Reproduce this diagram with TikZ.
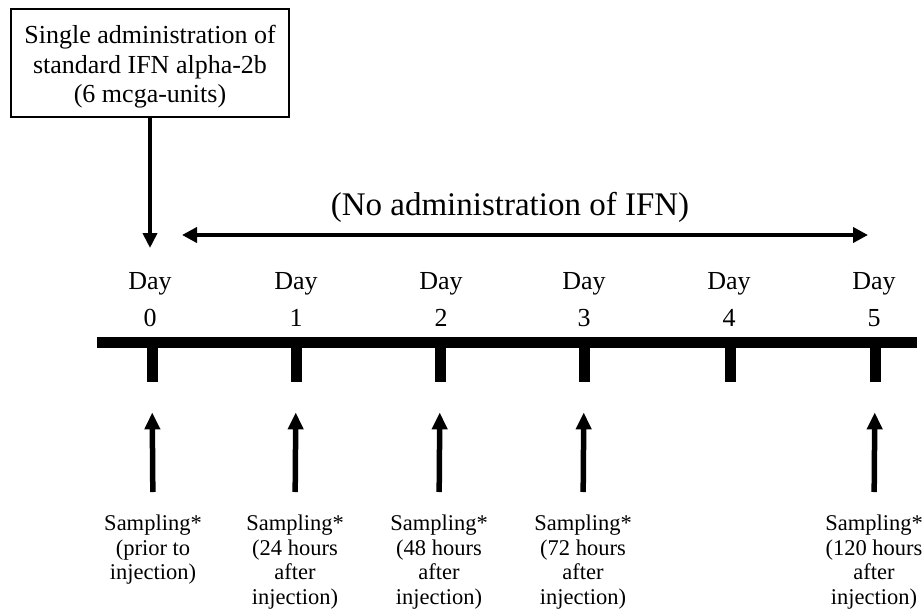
\documentclass[tikz,border=0pt]{standalone}
\usepackage{fontspec}
\setmainfont{Liberation Serif}
\usetikzlibrary{arrows.meta, positioning}

\begin{document}
\begin{tikzpicture}[
    x=1pt, y=-1pt,
    dosebox/.style={rectangle, draw, line width=2.5pt, inner sep=0pt, minimum width=278pt, minimum height=108pt, align=center, font=\fontsize{26}{29.5}\selectfont},
    daylbl/.style={align=center, inner sep=0pt, anchor=north, font=\fontsize{26}{37}\selectfont},
    samplbl/.style={align=center, inner sep=0pt, anchor=north, font=\fontsize{22.5}{24.5}\selectfont},
    daytick/.style={rectangle, fill=black, inner sep=0pt, minimum width=11pt, minimum height=36pt, anchor=north},
    uparrow/.style={-{Triangle[length=17pt, width=15pt]}, line width=5.5pt, shorten <=23pt, shorten >=30pt},
    longarrow/.style={line width=4.5pt}
]
\useasboundingbox (0,0) rectangle (923,615);

% -- DOSE --
\node[dosebox] (dose) at (150,63) {\rule{0pt}{26pt}Single administration of\\standard IFN alpha-2b\\(6 mcga-units)};

% -- NO ADMINISTRATION --
\node[inner sep=0pt, font=\fontsize{33}{36}\selectfont] (noifn) at (510,207) {(No administration of IFN)};
\coordinate (nofrom) at (182,235);
\coordinate (noto) at (868,235);
\draw[longarrow, {Triangle[length=15pt, width=15pt]}-{Triangle[length=15pt, width=15pt]}] (nofrom) -- (noto);

% -- DAYS --
\node[daylbl] (day0) at (150,272) {Day\\0};
\node[daylbl] (day1) at (296,272) {Day\\1};
\node[daylbl] (day2) at (441,272) {Day\\2};
\node[daylbl] (day3) at (584,272) {Day\\3};
\node[daylbl] (day4) at (729,272) {Day\\4};
\node[daylbl] (day5) at (874,272) {Day\\5};

\draw[longarrow, -{Triangle[length=15pt, width=14pt]}, shorten >=24pt] (dose.south) -- (day0.north);

% -- TIME LINE --
\node[rectangle, fill=black, inner sep=0pt, minimum width=820pt, minimum height=11pt] (axis) at (507,342) {};
\node[daytick] (t0) at (152,346) {};
\node[daytick] (t1) at (296,346) {};
\node[daytick] (t2) at (440,346) {};
\node[daytick] (t3) at (584,346) {};
\node[daytick] (t4) at (730,346) {};
\node[daytick] (t5) at (875,346) {};

% -- SAMPLING --
\node[samplbl] (s0) at (153,515) {Sampling*\\(prior to\\injection)};
\node[samplbl] (s1) at (295,515) {Sampling*\\(24 hours\\after\\injection)};
\node[samplbl] (s2) at (439,515) {Sampling*\\(48 hours\\after\\injection)};
\node[samplbl] (s3) at (583,515) {Sampling*\\(72 hours\\after\\injection)};
\node[samplbl] (s5) at (874,515) {Sampling*\\(120 hours\\after\\injection)};

\draw[uparrow] (s0.north) -- (t0.south);
\draw[uparrow] (s1.north) -- (t1.south);
\draw[uparrow] (s2.north) -- (t2.south);
\draw[uparrow] (s3.north) -- (t3.south);
\draw[uparrow] (s5.north) -- (t5.south);

\end{tikzpicture}
\end{document}
